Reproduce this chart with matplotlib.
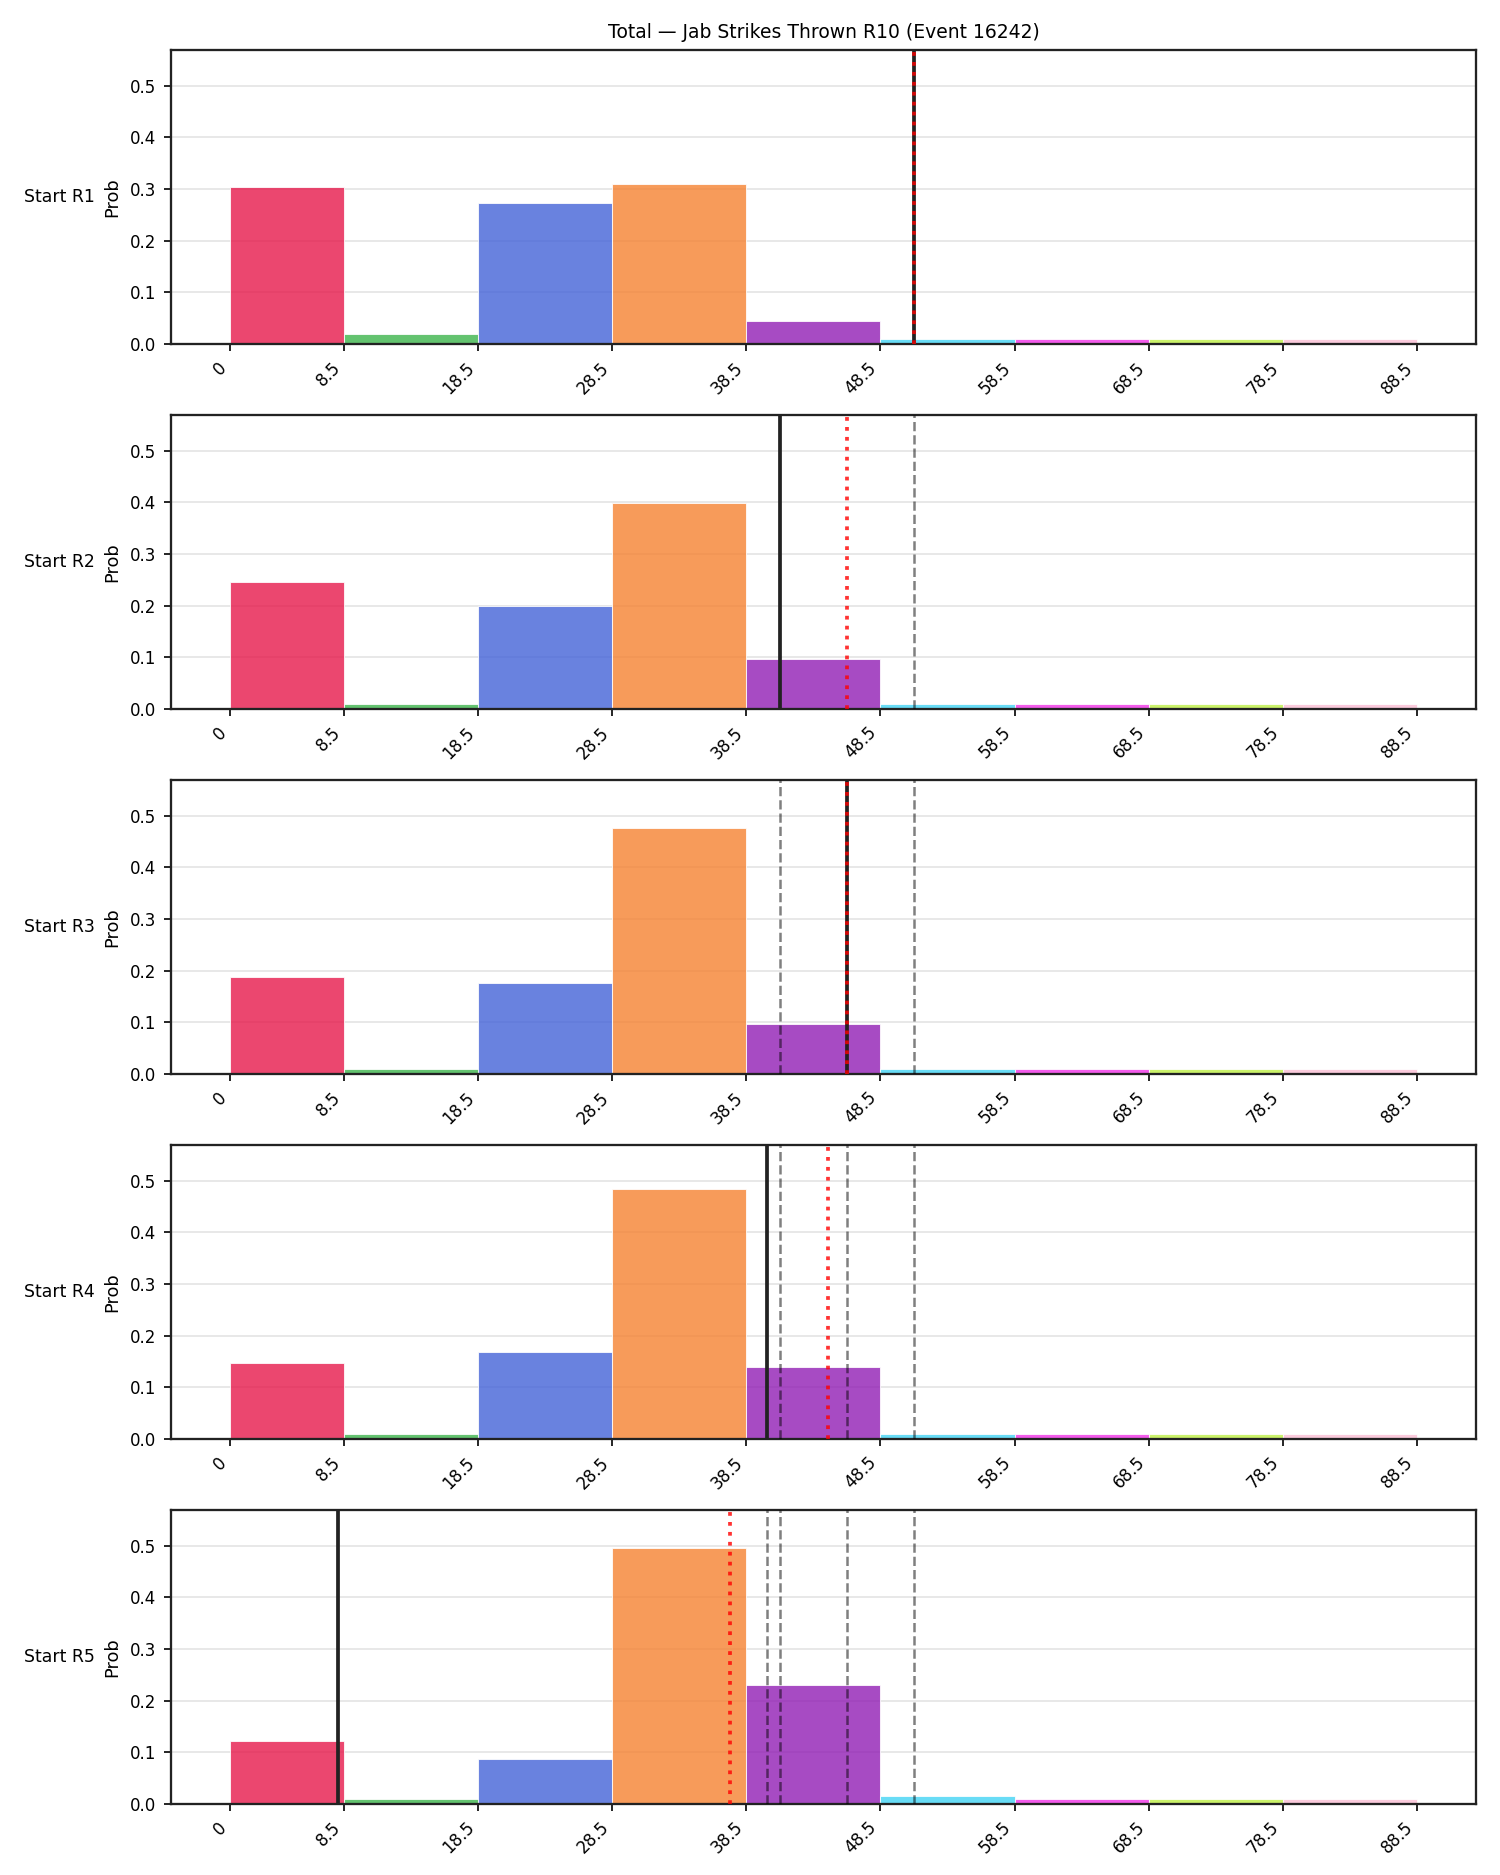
"""
    Distribution of total jab strikes, one panel per starting round.
"""
import matplotlib
matplotlib.use("Agg")
import matplotlib.pyplot as plt

# bins of the total count
bin_edges = [0, 8.5, 18.5, 28.5, 38.5, 48.5, 58.5, 68.5, 78.5, 88.5]
tick_labels = ["0", "8.5", "18.5", "28.5", "38.5", "48.5", "58.5", "68.5", "78.5", "88.5"]
bin_colors = ["#e6194B", "#3cb44b", "#4363d8", "#f58231", "#911eb4",
              "#42d4f4", "#f032e6", "#bfef45", "#fabed4"]

rounds = ["Start R1", "Start R2", "Start R3", "Start R4", "Start R5"]

# probability of each bin, per starting round
prob_r1 = [0.305, 0.019, 0.274, 0.309, 0.045, 0.009, 0.009, 0.009, 0.009]
prob_r2 = [0.245, 0.009, 0.199, 0.398, 0.097, 0.009, 0.009, 0.009, 0.009]
prob_r3 = [0.188, 0.009, 0.176, 0.477, 0.097, 0.009, 0.009, 0.009, 0.009]
prob_r4 = [0.148, 0.009, 0.169, 0.484, 0.139, 0.009, 0.009, 0.009, 0.009]
prob_r5 = [0.122, 0.009, 0.087, 0.495, 0.231, 0.016, 0.009, 0.009, 0.009]
probs = [prob_r1, prob_r2, prob_r3, prob_r4, prob_r5]

# solid black line (current), red dotted line (expected)
current_line = [51, 41, 46, 40, 8]
expected_line = [51, 46, 46, 44.6, 37.3]

title = "Total \u2014 Jab Strikes Thrown R10 (Event 16242)"

fig, axes = plt.subplots(5, 1, figsize=(10, 12.5), dpi=150)
fig.subplots_adjust(left=0.114, right=0.984, top=0.9733, bottom=0.0379, hspace=0.2415)

y_top = max(max(p) for p in probs) * 1.15

for i, ax in enumerate(axes):
    lefts = bin_edges[:-1]
    widths = [bin_edges[k + 1] - bin_edges[k] for k in range(len(lefts))]
    ax.bar(lefts, probs[i], width=widths, align="edge", color=bin_colors,
           alpha=0.8, edgecolor="white", linewidth=0.5, zorder=2)

    # earlier rounds' lines as grey dashes
    for prev in current_line[:i]:
        ax.axvline(prev, color="black", linestyle="--", linewidth=1.2, alpha=0.5, zorder=3)
    ax.axvline(current_line[i], color="#222222", linestyle="-", linewidth=1.8, zorder=4)
    ax.axvline(expected_line[i], color="red", linestyle=":", linewidth=1.8, alpha=0.8, zorder=5)

    ax.set_ylim(0, y_top)
    ax.set_xticks(bin_edges)
    ax.set_xticklabels(tick_labels, rotation=45, ha="right", fontsize=8)
    ax.tick_params(axis="y", labelsize=8)
    ax.set_ylabel("Prob", fontsize=8.5)
    ax.grid(axis="y", color="#dddddd", linewidth=0.8, alpha=0.8, zorder=0)
    ax.set_axisbelow(True)
    for s in ax.spines.values():
        s.set_color("#222222")
        s.set_linewidth(1.1)
    ax.text(-0.113, 0.5, rounds[i], transform=ax.transAxes, ha="left", va="center", fontsize=8.3)

axes[0].set_title(title, fontsize=9)

plt.savefig("out.png")
